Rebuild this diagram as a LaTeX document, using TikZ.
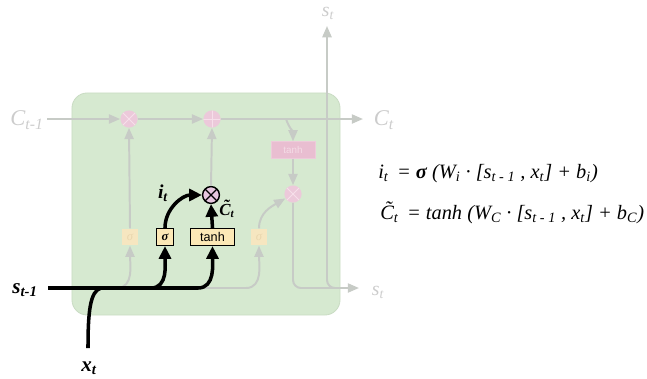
\documentclass[tikz,border=0pt]{standalone}
\usepackage{fontspec}
\setmainfont{Liberation Serif}
\setsansfont{Liberation Sans}
\usepackage{tikz}
\usetikzlibrary{arrows.meta,positioning,calc}
\definecolor{Cell}{HTML}{D6E9D0}
\definecolor{CellEdge}{HTML}{CADCC4}
\definecolor{Wire}{HTML}{C7CBC6}
\definecolor{Faded}{HTML}{CCCCCC}
\definecolor{OpPink}{HTML}{ECC9DA}
\definecolor{OpCross}{HTML}{F6DFEA}
\definecolor{MulPink}{HTML}{E6C6DE}
\definecolor{GatePale}{HTML}{F6E6C0}
\definecolor{GateText}{HTML}{E9D6AE}
\definecolor{GateYellow}{HTML}{FCE8B6}
\definecolor{TanhPink}{HTML}{E9BED1}
\definecolor{TanhText}{HTML}{F4DCE6}
\newcommand\Ctilde{\ooalign{C\cr\hidewidth\kern0.12em\raisebox{0.22em}{\char"02DC}\hidewidth\cr}}

\begin{document}
\begin{tikzpicture}[x=0.025cm,y=-0.025cm,
  cell/.style={fill=Cell,draw=CellEdge,line width=0.6pt,rounded corners=0.38cm,
    minimum width=6.7cm,minimum height=5.55cm},
  wire/.style={draw=Wire,line width=1.4pt,
    -{Triangle[length=8pt,width=6.5pt]}},
  wirenoarrow/.style={draw=Wire,line width=1.4pt},
  bold/.style={draw=black,line width=2.5pt,
    -{Triangle[length=9pt,width=8.5pt]}},
  boldnoarrow/.style={draw=black,line width=2.5pt},
  op/.style={circle,fill=OpPink,minimum size=0.43cm,inner sep=0pt},
  opmul/.style={op,path picture={
    \draw[OpCross,line width=0.6pt] (path picture bounding box.south west)--(path picture bounding box.north east)
      (path picture bounding box.north west)--(path picture bounding box.south east);}},
  opadd/.style={op,path picture={
    \draw[OpCross,line width=0.6pt] (path picture bounding box.west)--(path picture bounding box.east)
      (path picture bounding box.north)--(path picture bounding box.south);}},
  mulbold/.style={circle,fill=MulPink,draw=black,line width=1pt,minimum size=0.42cm,inner sep=0pt,
    path picture={
    \draw[black,line width=0.9pt] (path picture bounding box.south west)--(path picture bounding box.north east)
      (path picture bounding box.north west)--(path picture bounding box.south east);}},
  gatepale/.style={fill=GatePale,text=GateText,minimum width=0.38cm,minimum height=0.42cm,
    inner sep=0pt,font=\itshape\small},
  gate/.style={fill=GateYellow,draw=black,line width=1pt,minimum height=0.42cm,
    inner sep=0pt,font=\small},
  tanhpale/.style={fill=TanhPink,text=TanhText,draw=TanhPink!80!white,minimum width=1.1cm,
    minimum height=0.42cm,inner sep=0pt,font=\sffamily\scriptsize},
  fadedlabel/.style={text=Faded,font=\itshape\fontsize{16}{18}\selectfont,inner sep=0pt},
  blacklabel/.style={font=\bfseries\itshape\fontsize{15}{17}\selectfont,inner sep=0pt},
  eq/.style={anchor=west,font=\itshape\fontsize{14.5}{16}\selectfont,inner sep=0pt}]
  \useasboundingbox (0,0) rectangle (647,378);

  \node[cell] (cell) at (206,204) {};

  \node[fadedlabel] (cprev) at (27,120) {C\textsubscript{t-1}};
  \node[fadedlabel] (cnext) at (384,120) {C\textsubscript{t}};
  \node[fadedlabel,font=\itshape\fontsize{14}{16}\selectfont] (stop) at (328,13) {s\textsubscript{t}};
  \node[fadedlabel,font=\itshape\fontsize{14}{16}\selectfont] (sright) at (378,292) {s\textsubscript{t}};
  \node[blacklabel] (sprev) at (25,290) {s\textsubscript{t-1}};
  \node[blacklabel] (xt) at (89,368) {x\textsubscript{t}};

  \coordinate (cin) at (47,119);
  \coordinate (cout) at (363,119);
  \coordinate (tbranch) at (286,119);
  \coordinate (sin) at (48,288);
  \coordinate (xin) at (88,348);
  \coordinate (xjoin) at (101,288);
  \coordinate (fjoin) at (117,288);
  \coordinate (ijoin) at (151,288);
  \coordinate (tjoin) at (198,288);
  \coordinate (ojoin) at (246,288);
  \coordinate (sout) at (359,288);
  \coordinate (rjoin) at (345,288);
  \coordinate (supper) at (327,26);

  \node[opmul] (mulf) at (129,119) {};
  \node[opadd] (addc) at (212,119) {};
  \node[gatepale] (sigf) at (130,237) {σ};
  \node[gate,minimum width=0.42cm,font=\bfseries\itshape\small] (sigi) at (165,237) {σ};
  \node[gate,minimum width=1.1cm,font=\sffamily\small] (tanhc) at (212.5,237) {tanh};
  \node[mulbold] (muli) at (211,195) {};
  \node[gatepale] (sigo) at (259,237) {σ};
  \node[tanhpale] (tanho) at (293,150) {tanh};
  \node[opmul] (mulo) at (293,194) {};

  \node[blacklabel,font=\bfseries\itshape\fontsize{14}{16}\selectfont] (it) at (163,193) {i\textsubscript{t}};
  \node[blacklabel,font=\bfseries\itshape\fontsize{12}{14}\selectfont] (ctil) at (227,211) {\Ctilde\textsubscript{t}};

  \draw[wire] (cin) -- (mulf.west);
  \draw[wire] (mulf.east) -- (addc.west);
  \draw[wire] (addc.east) -- (cout);
  \draw[wire] (tbranch) to[out=-70,in=90] (tanho.north);
  \draw[wire] (tanho.south) -- (mulo.north);
  \draw[wire] (sigf.north) -- (mulf.south);
  \draw[wire] (muli.north) -- (addc.south);
  \draw[wirenoarrow] (sin) -- (ojoin);
  \draw[wire] (fjoin) to[out=0,in=-90] (sigf.south);
  \draw[wire] (ojoin) to[out=0,in=-90] (sigo.south);
  \draw[wire] (sigo.north) to[out=90,in=210] (mulo.210);
  \draw[wire,rounded corners=0.2cm] (mulo.south) |- (sout);
  \draw[wire,rounded corners=0.2cm] (rjoin) -| (supper);

  \draw[boldnoarrow] (sin) -- (tjoin);
  \draw[boldnoarrow] (xin) .. controls (88,312) and (90,291) .. (xjoin);
  \draw[bold] (ijoin) to[out=0,in=-90] (sigi.south);
  \draw[bold] (tjoin) to[out=0,in=-90] (tanhc.south);
  \draw[bold] (sigi.north) to[out=90,in=180] (muli.west);
  \draw[bold] (tanhc.north) -- (muli.south);

  \node[eq] (eqi) at (378,174)
    {i\textsubscript{t} \,= \textbf{σ} (W\textsubscript{i} · [s\textsubscript{t - 1} , x\textsubscript{t}] + b\textsubscript{i})};
  \node[eq] (eqc) at (380,215)
    {\Ctilde\textsubscript{t} \,= tanh (W\textsubscript{C} · [s\textsubscript{t - 1} , x\textsubscript{t}] + b\textsubscript{C})};
\end{tikzpicture}
\end{document}
